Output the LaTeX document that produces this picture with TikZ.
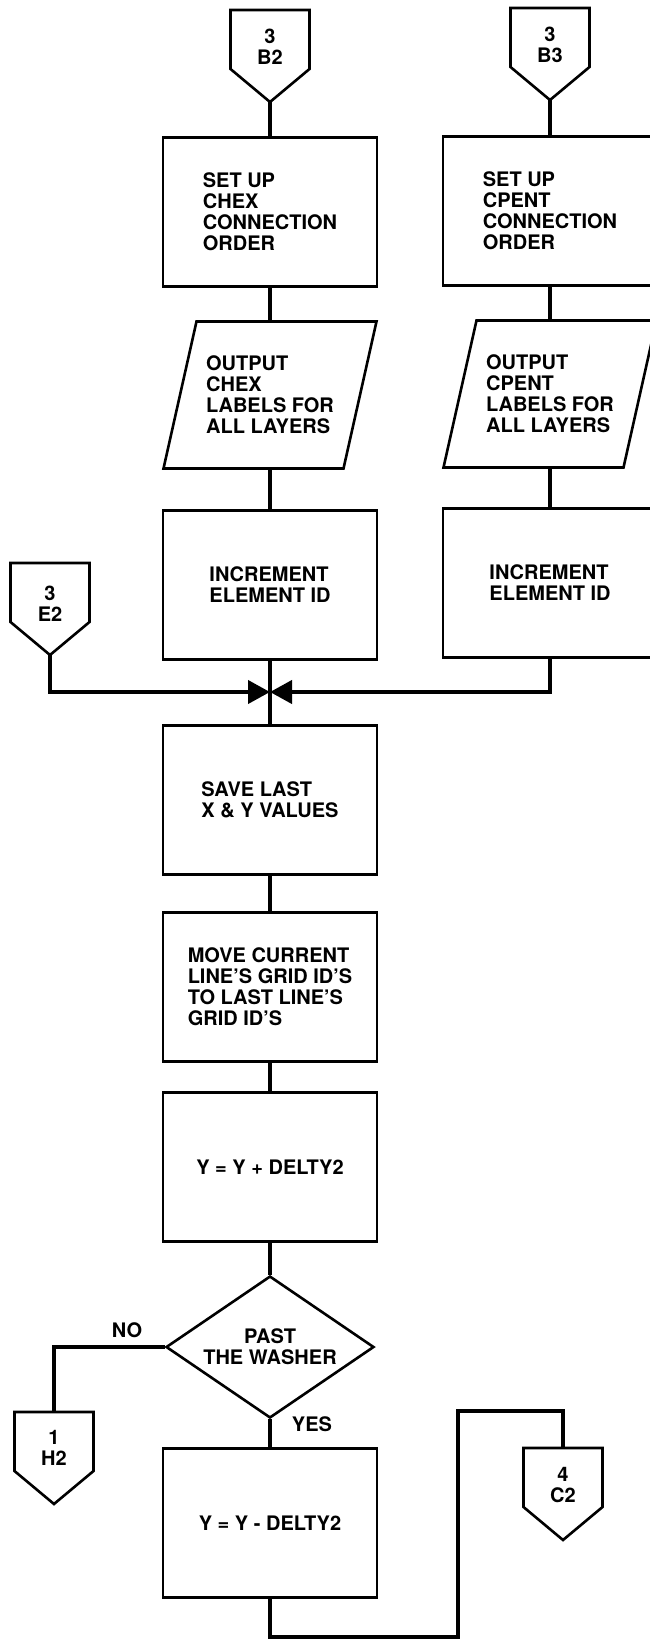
\documentclass[tikz,border=0pt]{standalone}
\usepackage{fontspec}
\setmainfont{TeX Gyre Heros}
\usetikzlibrary{shapes.geometric,arrows.meta}

\begin{document}
\begin{tikzpicture}[x=1pt,y=-1pt,
    every node/.style={font=\fontsize{20}{21}\selectfont\bfseries},
    proc/.style={draw,line width=2.6pt,minimum width=214pt,minimum height=149pt,align=left,inner sep=0pt},
    io/.style={minimum width=180pt,minimum height=147pt,align=left,inner sep=0pt,outer sep=1.3pt},
    outline/.style={line width=2.6pt},
    decide/.style={draw,line width=2.6pt,diamond,aspect=1.46,minimum width=208pt,minimum height=142pt,inner sep=0pt,align=center},
    flow/.style={line width=4pt},
    merge/.style={flow,-{Triangle[length=22pt,width=23pt]}}]
    \useasboundingbox (0,0) rectangle (650,1639);
    % off-page connectors
    \foreach \nm/\px/\py/\ty/\la/\lb in {b2/270/10/47/3/B2, b3/550/8/45/3/B3,
        e2/50/563/604/3/E2, h2/54/1412/1448/1/H2, c2/563/1448/1485/4/C2}{
        \draw[outline] (\px-39.5,\py) -- (\px+39.5,\py) -- (\px+39.5,\py+59)
            -- (\px,\py+92) -- (\px-39.5,\py+59) -- cycle;
        \node[align=center,inner sep=0pt] (\nm) at (\px,\ty) {\la\\\lb};
        \coordinate (\nm-top) at (\px,\py);
        \coordinate (\nm-tip) at (\px,\py+92);
    }
    \node[proc] (setchex) at (270,212) {SET UP\\CHEX\\CONNECTION\\ORDER};
    \node[proc] (setcpent) at (550,211) {SET UP\\CPENT\\CONNECTION\\ORDER};
    % output parallelograms
    \foreach \nm/\px/\py/\lb in {outchex/270/395/CHEX, outcpent/550/394/CPENT}{
        \node[io] (\nm) at (\px,\py) {OUTPUT\\\lb\\LABELS FOR\\ALL LAYERS};
        \draw[outline] (\px-73.5,\py-73.5) -- (\px+106.5,\py-73.5)
            -- (\px+73.5,\py+73.5) -- (\px-106.5,\py+73.5) -- cycle;
    }
    \node[proc] (incchex) at (270,585) {INCREMENT\\ELEMENT ID};
    \node[proc] (inccpent) at (550,583) {INCREMENT\\ELEMENT ID};
    \coordinate (join) at (270,692);
    \node[proc] (savexy) at (270,800) {SAVE LAST\\X \& Y VALUES};
    \node[proc] (movegrid) at (270,987) {MOVE CURRENT\\LINE'S GRID ID'S\\TO LAST LINE'S\\GRID ID'S};
    \node[proc] (addy) at (270,1167) {Y = Y + DELTY2};
    \node[decide] (washer) at (270,1347) {PAST\\THE WASHER};
    \node[proc] (suby) at (270,1523) {Y = Y - DELTY2};
    \node (no) at (127,1330) {NO};
    \node (yes) at (312,1424) {YES};
    \coordinate (bend) at (458,1411);
    % flow lines
    \draw[flow] (b2-tip) -- (setchex);
    \draw[flow] (setchex) -- (outchex);
    \draw[flow] (outchex) -- (incchex);
    \draw[flow] (b3-tip) -- (setcpent);
    \draw[flow] (setcpent) -- (outcpent);
    \draw[flow] (outcpent) -- (inccpent);
    \draw[flow] (incchex) -- (savexy);
    \draw[merge] (e2-tip) |- (join);
    \draw[merge] (inccpent) |- (join);
    \draw[flow] (savexy) -- (movegrid);
    \draw[flow] (movegrid) -- (addy);
    \draw[flow] (addy) -- (washer);
    \draw[flow] (washer.west) -| (h2-top);
    \draw[flow] (washer) -- (suby);
    \draw[flow] (suby.south) -- ++(0,38) -| (bend) -| (c2-top);
\end{tikzpicture}
\end{document}
